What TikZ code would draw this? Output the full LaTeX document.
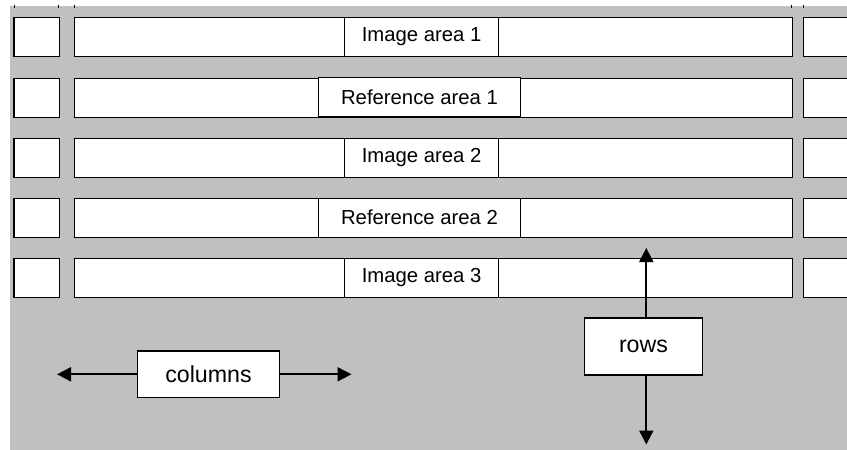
\documentclass[tikz,border=0pt]{standalone}
\usepackage{fontspec}
\setmainfont{Liberation Sans}
\usetikzlibrary{arrows.meta}
\definecolor{bggray}{RGB}{192,192,192}
\begin{document}
\begin{tikzpicture}[x=1pt,y=-1pt,
  cell/.style={draw=black,line width=1.3pt,fill=white,inner sep=0pt,anchor=north west,minimum height=39pt},
  areabox/.style={draw=black,line width=1pt,fill=white,inner sep=0pt,minimum height=39pt,
    font=\fontsize{20.3}{22}\selectfont},
  dirbox/.style={draw=black,line width=1.2pt,fill=white,inner sep=0pt,
    font=\fontsize{23.2}{25}\selectfont},
  dirarrow/.style={line width=1.9pt,-{Triangle[length=14pt,width=14pt]}},
  tick/.style={line width=0.9pt}]
\path[use as bounding box] (0,0) rectangle (847,450);
\fill[bggray] (10,6) rectangle (847,450);
% top ticks
\foreach \x [count=\k] in {14.5,58.5,74.5,791.5,803} {
  \coordinate (ta\k) at (\x,4.6);
  \coordinate (tb\k) at (\x,7.6);
  \draw[tick] (ta\k) -- (tb\k);
}
\begin{scope}
\clip (0,0) rectangle (847,450);
\foreach \i/\t in {1/17,2/77.5,3/138,4/198,5/258} {
  \node[cell,minimum width=45.4pt] (s\i) at (13.3,\t) {};
  \node[cell,minimum width=717.7pt] (w\i) at (74,\t) {};
  \node[cell,minimum width=60pt] (r\i) at (802.7,\t) {};
}
\end{scope}
\node[areabox,minimum width=154.7pt] (t1) at (421.6,36.5) {Image area 1};
\node[areabox,minimum width=202.4pt] (t2) at (419.5,97) {Reference area 1};
\node[areabox,minimum width=154.7pt] (t3) at (421.6,157.5) {Image area 2};
\node[areabox,minimum width=202.4pt] (t4) at (419.5,217.5) {Reference area 2};
\node[areabox,minimum width=154.7pt] (t5) at (421.6,277.5) {Image area 3};
% columns
\node[dirbox,minimum width=141.6pt,minimum height=46.7pt] (cols) at (208.5,374.3) {columns};
\coordinate (cl) at (57,374.3);
\coordinate (cr) at (351.5,374.3);
\draw[dirarrow] (cols.west) -- (cl);
\draw[dirarrow] (cols.east) -- (cr);
% rows
\node[dirbox,minimum width=118.4pt,minimum height=57pt] (rows) at (643.5,346.5) {rows};
\coordinate (ru) at (646.3,248);
\coordinate (rd) at (646.3,444.5);
\draw[dirarrow] (ru |- rows.north) -- (ru);
\draw[dirarrow] (rd |- rows.south) -- (rd);
\end{tikzpicture}
\end{document}
